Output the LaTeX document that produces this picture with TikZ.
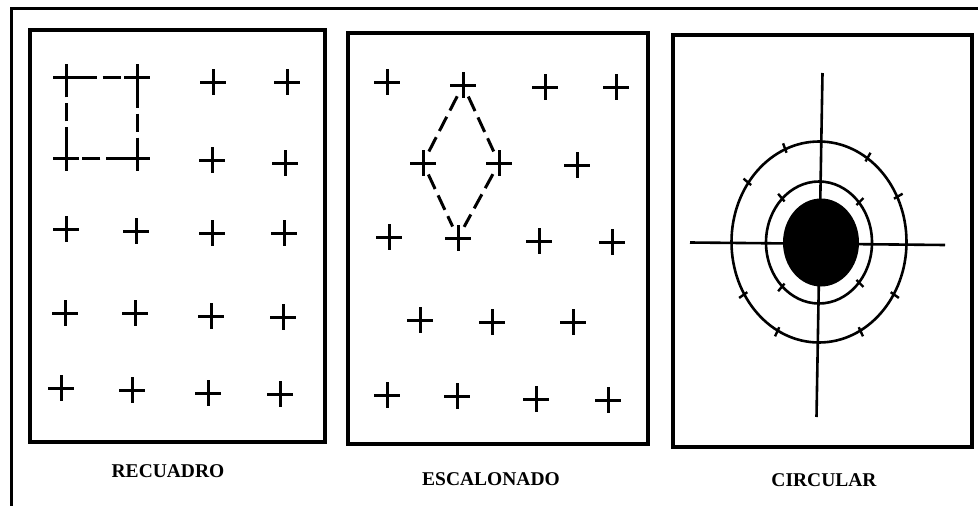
\documentclass[tikz,border=0pt]{standalone}
\usepackage{fontspec}
\setmainfont{Liberation Serif}
\usepackage{tikz}
\usetikzlibrary{positioning, shapes.geometric, calc}

\begin{document}
\begin{tikzpicture}[
    x=1pt, y=-1pt,
    marco/.style={line width=3pt, line cap=rect},
    panel/.style={rectangle, draw=black, line width=3.2pt, inner sep=0pt},
    brazo/.style={line width=3pt},
    cruz/.style={circle, inner sep=0pt, minimum size=25pt,
      append after command={(\tikzlastnode.north) edge[brazo] (\tikzlastnode.south)
                             (\tikzlastnode.west) edge[brazo] (\tikzlastnode.east)}},
    discont/.style={line width=3pt, dash pattern=on 18pt off 6pt},
    anillo/.style={ellipse, draw=black, line width=2.6pt, inner sep=0pt},
    eje/.style={line width=2.6pt},
    marca/.style={line width=2.4pt},
    rotulo/.style={font=\bfseries\fontsize{19.5}{23}\selectfont, inner sep=0pt},
  ]
  \useasboundingbox (0,0) rectangle (978,506);

  % marco exterior
  \draw[marco] (978,8.5) -- (11,8.5) -- (11,506);

  % paneles
  \node[panel, minimum width=295pt, minimum height=412pt] (recuadro) at (177.5,236) {};
  \node[panel, minimum width=300pt, minimum height=411pt] (escalonado) at (498,238.5) {};
  \node[panel, minimum width=299pt, minimum height=412pt] (circular) at (822.5,241) {};

  % RECUADRO
  \node[cruz] (r11) at (66,77) {};  \node[cruz] (r12) at (137,77) {};  \node[cruz] (r13) at (213,82) {};  \node[cruz] (r14) at (287,82) {};
  \node[cruz] (r21) at (66,158) {}; \node[cruz] (r22) at (137,158) {}; \node[cruz] (r23) at (212,160) {}; \node[cruz] (r24) at (285,163) {};
  \node[cruz] (r31) at (66,229) {}; \node[cruz] (r32) at (136,231) {}; \node[cruz] (r33) at (212,233) {}; \node[cruz] (r34) at (284,233) {};
  \node[cruz] (r41) at (65,313) {}; \node[cruz] (r42) at (135,313) {}; \node[cruz] (r43) at (211,316) {}; \node[cruz] (r44) at (283,317) {};
  \node[cruz] (r51) at (61,388) {}; \node[cruz] (r52) at (132,390) {}; \node[cruz] (r53) at (208,393) {}; \node[cruz] (r54) at (280,394) {};

  \draw[discont] (r11) -- (r12);
  \draw[discont] (r12) -- (r22);
  \draw[discont] (r22) -- (r21);
  \draw[discont] (r21) -- (r11);

  % ESCALONADO
  \node[cruz] (e11) at (387,82) {};  \node[cruz] (e12) at (463,85) {};  \node[cruz] (e13) at (545,87) {};  \node[cruz] (e14) at (616,87) {};
  \node[cruz] (e21) at (423,163) {}; \node[cruz] (e22) at (499,163) {}; \node[cruz] (e23) at (577,165) {};
  \node[cruz] (e31) at (389,237) {}; \node[cruz] (e32) at (458,238) {}; \node[cruz] (e33) at (539,241) {}; \node[cruz] (e34) at (612,242) {};
  \node[cruz] (e41) at (420,320) {}; \node[cruz] (e42) at (492,322) {}; \node[cruz] (e43) at (573,322) {};
  \node[cruz] (e51) at (387,395) {}; \node[cruz] (e52) at (457,396) {}; \node[cruz] (e53) at (536,399) {}; \node[cruz] (e54) at (608,400) {};

  \draw[discont, dash pattern=on 16pt off 7pt] (e12) -- (e21);
  \draw[discont, dash pattern=on 16pt off 7pt] (e12) -- (e22);
  \draw[discont, dash pattern=on 16pt off 7pt] (e21) -- (e32);
  \draw[discont, dash pattern=on 16pt off 7pt] (e22) -- (e32);

  % CIRCULAR
  \draw[eje] (822.5,73) -- (816.5,417);
  \draw[eje] (690,242.5) -- (945,245);
  \node[anillo, minimum width=175pt, minimum height=201pt] (aro ext) at (819,242) {};
  \node[anillo, minimum width=106pt, minimum height=122pt] (aro int) at (819,242.5) {};
  \node[ellipse, fill=black, minimum width=76pt, minimum height=88pt, inner sep=0pt] (nucleo) at (821,242.5) {};

  \foreach \a in {30,60,110,140,215,245,295,325}
    \draw[marca] ($(aro ext.\a)!5pt!(aro ext.center)$) -- ($(aro ext.\a)!-5pt!(aro ext.center)$);
  \foreach \a in {45,130,230,315}
    \draw[marca] ($(aro int.\a)!5pt!(aro int.center)$) -- ($(aro int.\a)!-5pt!(aro int.center)$);

  % rotulos
  \node[rotulo] (t recuadro) at (168,471) {RECUADRO};
  \node[rotulo] (t escalonado) at (491,479) {ESCALONADO};
  \node[rotulo] (t circular) at (824,480) {CIRCULAR};

\end{tikzpicture}
\end{document}
